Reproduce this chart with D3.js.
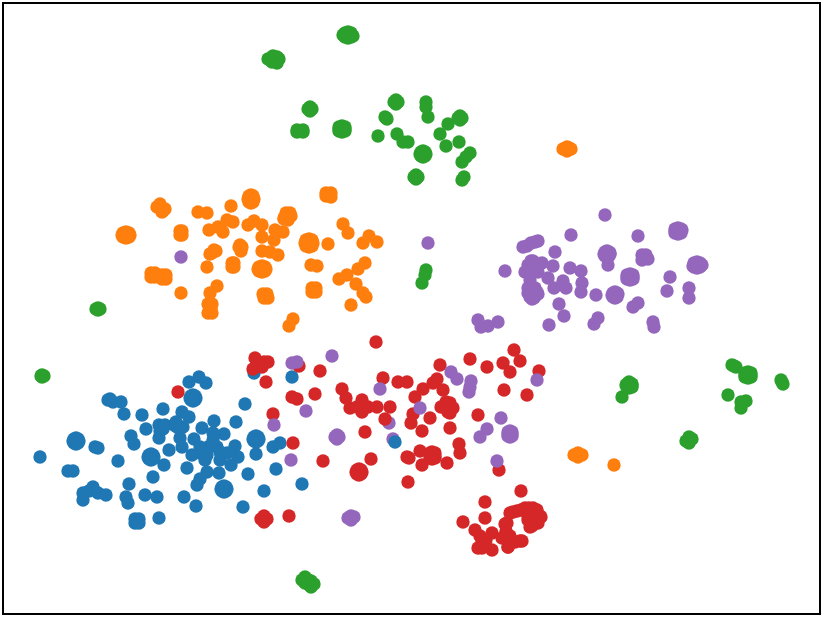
<!DOCTYPE html>
<html lang="en">

<head>
  <meta charset="UTF-8">
  <title>Cluster scatter</title>
  <style>
    body {
      margin: 0;
      background: #fff;
    }
  </style>
  <script src="https://cdn.jsdelivr.net/npm/d3@7"></script>
</head>

<body>
  <div id="wrapper"></div>
  <script>
    // values, no axis ticks in the original so units are arbitrary
    const blueX = [40, 75, 78, 95, 98, 68, 73, 118, 83, 83, 93, 89, 98, 106, 129, 126, 128, 145, 157, 137, 159, 153, 164, 150, 152, 169, 159, 160, 159, 163, 146, 131, 134, 124, 142, 108, 113, 121, 110, 163, 191, 194, 189, 199, 206, 182, 189, 174, 177, 183, 180, 182, 192, 194, 202, 214, 236, 245, 224, 213, 217, 208, 200, 205, 220, 227, 235, 238, 231, 187, 207, 200, 197, 219, 248, 223, 226, 184, 196, 243, 264, 255, 258, 256, 273, 280, 276, 254, 292, 302,
      74, 78, 74, 78, 73, 79, 76, 76, 191, 195, 191, 195, 190, 196, 193, 193, 149, 153, 149, 153, 148, 154, 151, 151, 222, 226, 222, 226, 221, 227, 224, 224, 254, 258, 254, 258, 253, 259, 256, 256, 135, 139, 135, 139,
      200, 207, 213, 220, 165, 176];
    const blueY = [457, 441, 441, 447, 448, 471, 471, 461, 500, 493, 487, 491, 493, 495, 484, 497, 503, 495, 497, 521, 518, 477, 465, 457, 457, 450, 438, 431, 425, 429, 429, 436, 444, 414, 415, 400, 402, 402, 399, 409, 398, 398, 382, 377, 383, 412, 417, 425, 427, 427, 438, 447, 455, 439, 428, 421, 422, 404, 434, 433, 447, 447, 453, 460, 460, 453, 446, 457, 465, 468, 472, 479, 485, 473, 474, 489, 489, 497, 506, 507, 491, 439, 439, 454, 447, 443, 469, 373, 377, 484,
      439, 439, 443, 443, 441, 441, 438, 444, 396, 396, 400, 400, 398, 398, 395, 401, 455, 455, 459, 459, 457, 457, 454, 460, 487, 487, 491, 491, 489, 489, 486, 492, 437, 437, 441, 441, 439, 439, 436, 442, 519, 519, 523, 523,
      447, 455, 440, 452, 425, 422];

    const orangeX = [122, 130, 159, 163, 198, 207, 231, 250, 253, 328, 330, 288, 284, 181, 209, 218, 223, 227, 233, 248, 254, 262, 262, 275, 283, 274, 306, 311, 328, 343, 348, 369, 363, 377, 240, 241, 212, 216, 262, 270, 278, 207, 233, 260, 264, 311, 317, 365, 358, 347, 339, 356, 363, 366, 314, 351, 153, 164, 181, 217, 210, 210, 210, 211, 265, 266, 293, 289, 565, 569, 576, 579, 614,
      123, 129, 123, 129, 126, 126, 567, 567, 563, 571, 578, 578, 574, 582, 249, 253, 249, 253, 251, 251, 248, 254, 306, 312, 306, 312, 309, 309, 305, 313, 259, 265, 259, 265, 262, 262, 258, 266,
      157, 160, 162, 165, 180, 182, 180, 182, 290, 286, 284, 288, 291, 326, 331, 326, 331, 151, 155, 151, 155, 162, 166, 162, 166, 232, 234, 232, 234, 208, 212, 208, 212, 263, 267, 264, 268, 312, 316, 312, 316, 239, 242, 210, 214];
    const orangeY = [235, 235, 206, 211, 212, 213, 206, 198, 200, 194, 196, 215, 218, 233, 230, 227, 232, 220, 222, 225, 221, 225, 237, 230, 232, 240, 243, 242, 244, 224, 233, 236, 243, 242, 245, 251, 253, 251, 251, 252, 255, 267, 265, 270, 269, 265, 266, 263, 269, 275, 279, 284, 293, 297, 290, 305, 275, 277, 293, 286, 293, 305, 312, 308, 296, 297, 319, 326, 149, 148, 455, 455, 465,
      233, 233, 237, 237, 232, 238, 147, 151, 149, 149, 453, 457, 455, 455, 196, 196, 202, 202, 195, 203, 199, 199, 240, 240, 246, 246, 239, 247, 243, 243, 267, 267, 271, 271, 266, 272, 269, 269,
      207, 204, 212, 209, 231, 231, 235, 235, 213, 213, 219, 220, 216, 193, 193, 196, 197, 273, 273, 277, 277, 275, 275, 279, 279, 263, 263, 267, 267, 304, 304, 313, 313, 294, 294, 298, 298, 288, 288, 292, 292, 247, 247, 254, 250];

    const greenX = [343, 353, 270, 277, 277, 310, 298, 302, 339, 345, 396, 386, 378, 397, 403, 408, 420, 426, 426, 428, 460, 448, 440, 459, 446, 423, 416, 470, 462, 464, 462, 426, 425, 422, 96, 100, 41, 44, 622, 626, 632, 734, 745, 751, 782, 728, 741, 746, 741, 687, 691, 305, 311,
      345, 351, 345, 351, 348, 348, 268, 272, 273, 279, 310, 310, 308, 312, 297, 303, 297, 303, 339, 345, 339, 345, 342, 342, 396, 396, 394, 398, 385, 387, 421, 425, 421, 425, 426, 423, 423, 416, 416, 414, 418, 460, 460, 458, 462, 98, 98, 42, 42, 627, 632, 627, 632, 629, 629, 745, 751, 745, 751, 748, 748, 732, 736, 781, 783, 686, 692, 689, 689, 305, 305, 302, 308, 311, 311, 308, 314, 466];
    const greenY = [35, 36, 59, 57, 63, 109, 131, 131, 129, 129, 102, 118, 136, 134, 142, 142, 154, 102, 107, 117, 118, 124, 134, 142, 146, 154, 177, 153, 162, 177, 180, 270, 275, 283, 309, 309, 376, 376, 397, 385, 385, 366, 375, 375, 382, 395, 402, 401, 408, 441, 439, 580, 584,
      33, 33, 37, 37, 32, 38, 59, 62, 56, 59, 107, 111, 109, 109, 130, 130, 132, 132, 127, 127, 131, 131, 126, 132, 100, 104, 102, 102, 117, 119, 152, 152, 156, 156, 154, 151, 157, 175, 179, 177, 177, 116, 120, 118, 118, 308, 310, 375, 377, 384, 384, 387, 387, 382, 388, 373, 373, 377, 377, 372, 378, 365, 367, 380, 384, 441, 439, 437, 443, 577, 583, 580, 580, 581, 587, 584, 584, 157];

    const redX = [376, 255, 264, 253, 262, 266, 178, 299, 320, 292, 297, 315, 273, 293, 323, 264, 289, 342, 346, 350, 362, 357, 362, 368, 377, 390, 383, 398, 407, 415, 423, 433, 437, 443, 440, 470, 487, 503, 510, 514, 520, 539, 504, 527, 446, 453, 445, 450, 478, 413, 411, 430, 422, 450, 365, 459, 460, 420, 409, 430, 435, 371, 358, 361, 422, 447, 408, 499, 521, 485, 463, 485, 475, 482, 478, 492, 492, 502, 508, 520, 507, 510, 517, 525, 533, 540, 535, 530, 528, 506,
      357, 361, 357, 361, 359, 359, 356, 362, 258, 268, 257, 430, 435, 430, 435, 432, 432, 448, 441, 450, 407, 264, 264, 261, 267,
      513, 521, 529, 537, 541, 538, 532, 528, 534, 505, 510, 522, 515, 508, 480, 486, 482];
    const redY = [342, 358, 362, 369, 367, 382, 392, 366, 371, 397, 399, 394, 414, 443, 461, 519, 516, 389, 398, 408, 400, 407, 412, 407, 407, 407, 378, 382, 382, 397, 389, 383, 379, 390, 365, 359, 367, 363, 372, 350, 361, 371, 390, 395, 402, 408, 407, 413, 415, 414, 423, 418, 431, 428, 432, 444, 453, 451, 458, 455, 456, 459, 473, 472, 465, 463, 482, 470, 491, 502, 522, 518, 530, 542, 548, 550, 533, 538, 547, 541, 523, 513, 511, 508, 508, 516, 522, 527, 517, 531,
      470, 470, 474, 474, 469, 475, 472, 472, 364, 362, 366, 453, 453, 458, 458, 452, 459, 412, 407, 403, 457, 516, 522, 519, 519,
      512, 510, 508, 510, 517, 523, 526, 520, 516, 524, 536, 541, 542, 547, 536, 540, 548];

    const purpleX = [332, 292, 297, 306, 274, 291, 380, 336, 338, 389, 393, 420, 451, 457, 471, 470, 469, 501, 487, 480, 508, 512, 497, 537, 348, 354, 605, 675, 682, 638, 571, 535, 523, 555, 605, 610, 608, 644, 648, 505, 533, 528, 542, 553, 525, 538, 530, 548, 570, 581, 582, 581, 563, 554, 566, 532, 538, 532, 559, 564, 549, 596, 612, 618, 627, 633, 693, 702, 670, 667, 689, 689, 638, 633, 598, 594, 653, 654, 498, 478, 481, 488, 428, 181,
      675, 681, 675, 681, 678, 678, 605, 609, 605, 609, 607, 607, 604, 610, 694, 700, 694, 700, 697, 697, 627, 633, 627, 633, 630, 630, 528, 535, 528, 537, 530, 534, 642, 646, 642, 613, 617, 613, 617, 615, 615, 527, 531, 538, 531, 530, 535, 508, 512, 508, 512, 510, 510, 351, 351, 337, 337, 335, 339];
    const purpleY = [356, 363, 362, 411, 425, 460, 389, 437, 436, 423, 439, 408, 372, 379, 381, 387, 392, 418, 429, 437, 434, 434, 461, 380, 518, 517, 215, 231, 230, 236, 235, 242, 247, 252, 254, 253, 265, 257, 259, 271, 261, 265, 263, 266, 272, 272, 280, 278, 268, 271, 283, 292, 281, 288, 288, 290, 294, 299, 304, 316, 325, 295, 295, 294, 277, 277, 266, 265, 277, 291, 288, 298, 303, 307, 318, 324, 322, 327, 322, 320, 327, 326, 243, 257,
      229, 229, 233, 233, 228, 234, 252, 252, 256, 256, 251, 257, 254, 254, 263, 263, 267, 267, 262, 268, 275, 275, 279, 279, 274, 280, 288, 288, 293, 292, 297, 298, 255, 255, 260, 293, 293, 297, 297, 292, 298, 246, 243, 241, 261, 272, 268, 432, 432, 436, 436, 431, 437, 516, 520, 435, 439, 437, 437];

    // a few points that sit on top of the purple ones in the original
    const lateRedX = [385];
    const lateRedY = [419];
    const lateBlueX = [395];
    const lateBlueY = [442];

    const series = [
      { x: blueX, y: blueY, color: "#1f77b4" },
      { x: redX, y: redY, color: "#d62728" },
      { x: greenX, y: greenY, color: "#2ca02c" },
      { x: orangeX, y: orangeY, color: "#ff7f0e" },
      { x: purpleX, y: purpleY, color: "#9467bd" },
      { x: lateRedX, y: lateRedY, color: "#d62728" },
      { x: lateBlueX, y: lateBlueY, color: "#1f77b4" },
    ];

    function drawScatter() {
      //#region Create Chart Dimensions
      let dimensions = {
        width: 823,
        height: 620,
        margin: {
          top: 3,
          right: 3,
          bottom: 6,
          left: 3,
        },
      };
      dimensions.boundedWidth = dimensions.width - dimensions.margin.left - dimensions.margin.right;
      dimensions.boundedHeight = dimensions.height - dimensions.margin.top - dimensions.margin.bottom;
      //#endregion

      //#region Draw Canvas
      const wrapper = d3.select("#wrapper")
        .append("svg")
        .attr("width", dimensions.width)
        .attr("height", dimensions.height)
        .style("display", "block");

      const bounds = wrapper.append("g")
        .attr("transform", `translate(${dimensions.margin.left}, ${dimensions.margin.top})`);
      //#endregion

      //#region Scales
      const xScale = d3.scaleLinear()
        .domain([3, 820])
        .range([0, dimensions.boundedWidth]);

      const yScale = d3.scaleLinear()
        .domain([3, 614])
        .range([0, dimensions.boundedHeight]);
      //#endregion

      //#region Draw Data
      series.forEach(s => {
        bounds.append("g")
          .selectAll("circle")
          .data(s.x)
          .join("circle")
          .attr("cx", d => xScale(d))
          .attr("cy", (d, i) => yScale(s.y[i]))
          .attr("r", 6.7)
          .attr("fill", s.color);
      });
      //#endregion

      //#region Draw Peripherals
      bounds.append("rect")
        .attr("width", dimensions.boundedWidth)
        .attr("height", dimensions.boundedHeight)
        .attr("fill", "none")
        .attr("stroke", "black")
        .attr("stroke-width", 2);
      //#endregion
    }

    drawScatter();
  </script>
</body>

</html>
